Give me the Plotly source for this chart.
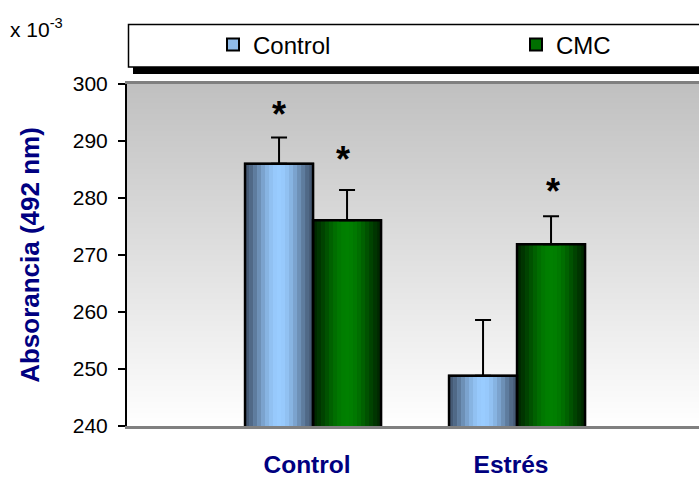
import numpy as np
import plotly.graph_objects as go

# ---- data -------------------------------------------------------------
categories = ["Control", "Estrés"]
series_names = ["Control", "CMC"]
control_vals = [286.0, 248.8]
cmc_vals = [276.1, 271.9]
control_err = [4.6, 9.8]
cmc_err = [5.3, 4.9]
# significance marks: (category index, series index)
significant = [(0, 0), (0, 1), (1, 1)]
y_ticks = [240, 250, 260, 270, 280, 290, 300]

# ---- style ------------------------------------------------------------
FONT = "Liberation Sans, Arial, sans-serif"
NAVY = "#000080"
BAR_W = 1 / 3            # width of a single bar (category units)
X_RANGE = [-0.912, 1.892]
Y_RANGE = [240, 300]
N_SLICES = 17            # vertical strips used to shade each bar
star_lift_px = [30, 38, 32]
star_nudge_px = [0, -4, 2]

shades = {
    "Control": {"edge": (66, 86, 112), "mid": (153, 204, 255), "legend": "#8fbbe9",
                "legend_ref": "legend", "legend_x": 213},
    "CMC": {"edge": (0, 38, 0), "mid": (0, 128, 0), "legend": "#007000",
            "legend_ref": "legend2", "legend_x": 516},
}

values = [control_vals, cmc_vals]
errors = [control_err, cmc_err]
offsets = [-BAR_W, 0.0]


def mix(a, b, f):
    return "rgb({},{},{})".format(*[round(a[k] + (b[k] - a[k]) * f) for k in range(3)])


def px_x(p):
    return (p - 127) / 572


def px_y(p):
    return (426 - p) / 342


fig = go.Figure()

# plot-area background: vertical grey-to-white fade
fig.add_trace(go.Heatmap(
    x=X_RANGE, y=Y_RANGE, z=[[0, 0], [1, 1]],
    colorscale=[[0, "#ffffff"], [1, "#c0c0c0"]],
    zsmooth="best", showscale=False, hoverinfo="skip",
))

# base bars (also provide the legend swatches)
for s, name in enumerate(series_names):
    fig.add_trace(go.Bar(
        x=[0, 1], y=values[s], name=name,
        offset=offsets[s], width=BAR_W,
        marker=dict(color=shades[name]["legend"], line=dict(color="black", width=2)),
        showlegend=True, legend=shades[name]["legend_ref"], hoverinfo="skip",
    ))

# shaded strips across each bar
for s, name in enumerate(series_names):
    sh = shades[name]
    for i in range(N_SLICES):
        t = (i + 0.5) / N_SLICES
        f = np.sin(np.pi * t) ** 1.4
        fig.add_trace(go.Bar(
            x=[0, 1], y=values[s],
            offset=offsets[s] + i * BAR_W / N_SLICES, width=BAR_W / N_SLICES,
            marker=dict(color=mix(sh["edge"], sh["mid"], f), line=dict(width=0)),
            showlegend=False, hoverinfo="skip",
        ))

# outlines and error bars on top
for s, name in enumerate(series_names):
    fig.add_trace(go.Bar(
        x=[0, 1], y=values[s],
        offset=offsets[s], width=BAR_W,
        marker=dict(color="rgba(0,0,0,0)", line=dict(color="black", width=2.5)),
        error_y=dict(type="data", array=errors[s], arrayminus=[0, 0],
                     symmetric=False, color="black", thickness=2, width=8),
        showlegend=False, hoverinfo="skip",
    ))

# significance asterisks
for k, (c, s) in enumerate(significant):
    fig.add_annotation(
        x=c + offsets[s] + BAR_W / 2, y=values[s][c] + errors[s][c],
        text="*", showarrow=False, xanchor="center", yanchor="middle",
        xshift=star_nudge_px[k], yshift=star_lift_px[k] - 7,
        font=dict(family=FONT, size=36, color="black", weight="bold"),
    )

# scale factor note
fig.add_annotation(
    xref="paper", yref="paper", x=px_x(8), y=px_y(28),
    text="x 10<sup>-3</sup>", showarrow=False, xanchor="left", yanchor="middle",
    font=dict(family=FONT, size=21, color="black"),
)

# legend frame with drop shadow
fig.add_shape(type="rect", xref="paper", yref="paper",
              x0=px_x(133), x1=px_x(760), y0=px_y(74), y1=px_y(30),
              fillcolor="black", line=dict(width=0), layer="above")
fig.add_shape(type="rect", xref="paper", yref="paper",
              x0=px_x(128.5), x1=px_x(760), y0=px_y(67), y1=px_y(24.5),
              fillcolor="white", line=dict(color="black", width=1.5), layer="above")

legend_style = dict(
    orientation="h", y=px_y(45), xanchor="left", yanchor="middle",
    bgcolor="rgba(0,0,0,0)", borderwidth=0,
    font=dict(family=FONT, size=24, color="black"),
)

fig.update_layout(
    width=699, height=478, autosize=False,
    margin=dict(l=127, r=0, t=84, b=52, pad=0),
    paper_bgcolor="white", plot_bgcolor="white",
    barmode="overlay",
    font=dict(family=FONT, color="black"),
    showlegend=True,
    legend=dict(x=px_x(shades["Control"]["legend_x"]), **legend_style),
    legend2=dict(x=px_x(shades["CMC"]["legend_x"]), **legend_style),
    xaxis=dict(
        range=X_RANGE, tickvals=[0, 1], ticktext=categories,
        tickfont=dict(family=FONT, size=24.5, color=NAVY, weight="bold"),
        ticks="", showline=True, linecolor="#808080", linewidth=3, mirror=True,
        showgrid=False, zeroline=False, ticklabelstandoff=15, ticklabelshift=-6,
        automargin=False, fixedrange=True,
    ),
    yaxis=dict(
        range=Y_RANGE, tickvals=y_ticks,
        tickfont=dict(family=FONT, size=21, color="black"),
        ticks="outside", ticklen=7, tickwidth=2, tickcolor="black",
        showline=True, linecolor="black", linewidth=2,
        showgrid=False, zeroline=False, ticklabelstandoff=6,
        title=dict(text="Absorancia (492 nm)", standoff=26,
                   font=dict(family=FONT, size=26, color=NAVY, weight="bold")),
        automargin=False, fixedrange=True,
    ),
)

fig.write_html("out.html")
